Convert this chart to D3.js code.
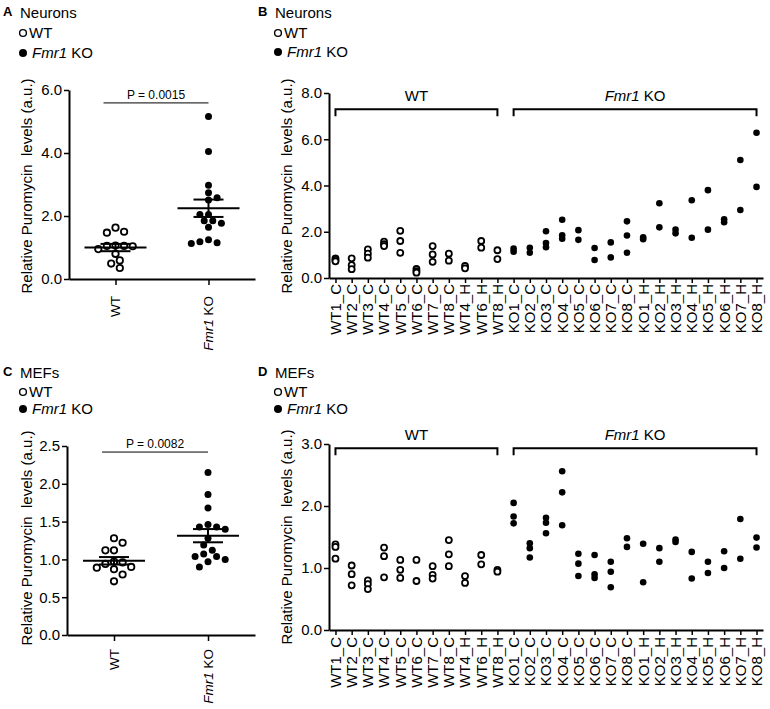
<!DOCTYPE html>
<html><head><meta charset="utf-8">
<script src="https://cdn.jsdelivr.net/npm/d3@7"></script>
<style>
body{margin:0;background:#fff}
svg{font-family:"Liberation Sans",Arial,Helvetica,sans-serif}
</style>
</head><body>
<svg id="c" width="770" height="709"></svg>
<script>
// ---------------- DATA ----------------
const groups = ["WT", "Fmr1 KO"];
const neuronWT = [1.63, 1.50, 1.47, 1.06, 1.05, 1.05, 1.04, 0.95, 0.80, 0.59, 0.49, 0.35];
const neuronKO = [5.16, 4.05, 2.98, 2.74, 2.58, 2.51, 2.05, 2.05, 1.85, 1.85, 1.77, 1.64, 1.25, 1.18, 1.15, 1.13];
const mefWT = [1.28, 1.22, 1.12, 1.12, 0.97, 0.96, 0.94, 0.90, 0.89, 0.87, 0.80, 0.71];
const mefKO = [2.15, 1.86, 1.68, 1.46, 1.43, 1.43, 1.40, 1.28, 1.19, 1.12, 1.07, 1.04, 1.04, 1.00, 0.97, 0.90];
const pNeuron = "P = 0.0015";
const pMef = "P = 0.0082";
const neuronTicks = [0, 2, 4, 6];
const mefTicks = [0, 0.5, 1.0, 1.5, 2.0, 2.5];

const sampleCats = ["WT1_C","WT2_C","WT3_C","WT4_C","WT5_C","WT6_C","WT7_C","WT8_C","WT4_H","WT6_H","WT8_H",
  "KO1_C","KO2_C","KO3_C","KO4_C","KO5_C","KO6_C","KO7_C","KO8_C",
  "KO1_H","KO2_H","KO3_H","KO4_H","KO5_H","KO6_H","KO7_H","KO8_H"];
const neuronSampleValues = [
  [0.85, 0.78, 0.72], [0.85, 0.56, 0.38], [1.24, 1.05, 0.88], [1.57, 1.46, 1.38],
  [2.04, 1.60, 1.09], [0.39, 0.30, 0.23], [1.38, 1.02, 0.70], [1.05, 0.75],
  [0.52, 0.42], [1.60, 1.31], [1.20, 0.82],
  [1.27, 1.14], [1.31, 1.09], [2.02, 1.51, 1.33], [2.52, 1.85, 1.70],
  [2.07, 1.65], [1.30, 0.78], [1.54, 0.89], [2.45, 1.84, 1.09],
  [1.76, 1.68], [3.23, 2.19], [2.10, 1.93], [3.36, 1.74],
  [3.80, 2.09], [2.54, 2.41], [5.10, 2.94], [6.28, 3.94]
];
const mefSampleValues = [
  [1.38, 1.34, 1.15], [1.04, 0.90, 0.72], [0.80, 0.74, 0.66], [1.33, 1.19, 0.85],
  [1.13, 0.97, 0.84], [1.13, 0.79], [1.03, 0.89, 0.83], [1.45, 1.22, 1.03],
  [0.87, 0.76], [1.21, 1.06], [0.97, 0.94],
  [2.05, 1.83, 1.72], [1.40, 1.32, 1.17], [1.81, 1.73, 1.56], [2.56, 2.22, 1.69],
  [1.23, 1.07, 0.87], [1.21, 0.90, 0.84], [1.10, 0.94, 0.69], [1.48, 1.34],
  [1.39, 0.77], [1.32, 1.10], [1.46, 1.42], [1.26, 0.83],
  [1.10, 0.92], [1.27, 1.00], [1.79, 1.15], [1.49, 1.33]
];
const neuronSampleTicks = [0, 2, 4, 6, 8];
const mefSampleTicks = [0, 1, 2, 3];
const yTitle = "Relative Puromycin  levels (a.u.)";

// ---------------- DRAW ----------------
const svg = d3.select("#c");
const F = 15;

function fmrLabel(sel) {
  sel.append("tspan").attr("font-style", "italic").text("Fmr1");
  sel.append("tspan").text(" KO");
}

function header(x, y, letter, title, legendY, legendDx) {
  svg.append("text").attr("x", x).attr("y", y).attr("font-weight", "bold")
    .attr("font-size", 13).text(letter);
  svg.append("text").attr("x", x + 17).attr("y", y + 2).attr("font-size", F).text(title);
  const cx = x + 20;
  svg.append("circle").attr("cx", cx).attr("cy", legendY[0]).attr("r", 3.4)
    .attr("fill", "#fff").attr("stroke", "#000").attr("stroke-width", 1.4);
  svg.append("text").attr("x", cx + 6).attr("y", legendY[0] + 5).attr("font-size", F).text("WT");
  svg.append("circle").attr("cx", cx).attr("cy", legendY[1]).attr("r", 4).attr("fill", "#000");
  const t = svg.append("text").attr("x", cx + 8 + legendDx).attr("y", legendY[1] + 5).attr("font-size", F);
  fmrLabel(t);
}

function yAxis(g, y, ticks, x0) {
  const ax = g.append("g").attr("transform", `translate(${x0},0)`)
    .call(d3.axisLeft(y).tickValues(ticks).tickFormat(d3.format(".1f")).tickSize(5).tickSizeOuter(0).tickPadding(2));
  ax.select(".domain").attr("stroke-width", 2);
  ax.selectAll(".tick line").attr("stroke-width", 1.5);
  ax.selectAll(".tick text").attr("font-size", F).attr("fill", "#000")
    .attr("font-family", '"Liberation Sans",Arial,sans-serif');
}

function yTitleAt(x, cy) {
  svg.append("text").attr("transform", `translate(${x},${cy}) rotate(-90)`)
    .attr("text-anchor", "middle").attr("font-size", F).style("white-space", "pre").text(yTitle);
}

function swarm(values, y, h, minD) {
  const pts = values.map(v => ({ v, py: y(v) })).sort((a, b) => a.py - b.py);
  const placed = [];
  let sum = 0;
  pts.forEach(p => {
    for (let k = 0; k < 40; k++) {
      const cands = k === 0 ? [0] : (sum > 0 ? [-k * h, k * h] : [k * h, -k * h]);
      const ok = cands.find(dx => placed.every(q => Math.hypot(q.dx - dx, q.py - p.py) >= minD));
      if (ok !== undefined) { p.dx = ok; sum += ok; placed.push(p); break; }
    }
  });
  return pts;
}

function dotPanel(cfg) {
  const g = svg.append("g");
  const x = d3.scalePoint().domain(groups).range([cfg.x0, cfg.x1]).padding(0.5);
  const y = d3.scaleLinear().domain(cfg.yDomain).range([cfg.yBottom, cfg.yTop]);
  const xa = g.append("g").attr("transform", `translate(0,${cfg.yBottom})`)
    .call(d3.axisBottom(x).tickSize(6).tickSizeOuter(0).tickFormat(""));
  xa.select(".domain").attr("stroke-width", 2);
  xa.selectAll(".tick line").attr("stroke-width", 1.5);
  yAxis(g, y, cfg.ticks, cfg.x0);
  groups.forEach((grp, i) => {
    const t = g.append("text").attr("transform", `translate(${x(grp)},${cfg.yBottom + cfg.labelGap}) rotate(-90)`)
      .attr("text-anchor", "end").attr("dy", "0.35em").attr("font-size", 13.5);
    if (i === 0) t.text(grp); else fmrLabel(t);
  });
  const py = y(cfg.pLevel);
  g.append("line").attr("x1", x(groups[0]) - 12).attr("x2", x(groups[1])).attr("y1", py).attr("y2", py)
    .attr("stroke", "#000").attr("stroke-width", 1);
  g.append("text").attr("x", (x(groups[0]) - 12 + x(groups[1])) / 2).attr("y", py - 4)
    .attr("text-anchor", "middle").attr("font-size", 12).text(cfg.pText);
  [cfg.wt, cfg.ko].forEach((vals, i) => {
    const cx = x(groups[i]);
    const pts = swarm(vals, y, 4.3, 7.2);
    g.selectAll(null).data(pts).enter().append("circle")
      .attr("cx", d => cx + d.dx).attr("cy", d => d.py)
      .attr("r", i === 0 ? 3.2 : 3.5)
      .attr("fill", i === 0 ? "#fff" : "#000")
      .attr("stroke", "#000").attr("stroke-width", i === 0 ? 1.8 : 0);
    const m = d3.mean(vals), sem = d3.deviation(vals) / Math.sqrt(vals.length);
    g.append("line").attr("x1", cx - 31).attr("x2", cx + 31).attr("y1", y(m)).attr("y2", y(m))
      .attr("stroke", "#000").attr("stroke-width", 2);
    g.append("line").attr("x1", cx).attr("x2", cx).attr("y1", y(m - sem)).attr("y2", y(m + sem))
      .attr("stroke", "#000").attr("stroke-width", 2);
    [m - sem, m + sem].forEach(v => g.append("line").attr("x1", cx - 15).attr("x2", cx + 15)
      .attr("y1", y(v)).attr("y2", y(v)).attr("stroke", "#000").attr("stroke-width", 2));
  });
}

function samplePanel(cfg) {
  const g = svg.append("g");
  const x = d3.scalePoint().domain(sampleCats).range([cfg.x0, cfg.x1]).padding(0.4);
  const y = d3.scaleLinear().domain(cfg.yDomain).range([cfg.yBottom, cfg.yTop]);
  const xa = g.append("g").attr("transform", `translate(0,${cfg.yBottom})`)
    .call(d3.axisBottom(x).tickSize(5).tickSizeOuter(0).tickFormat(""));
  xa.select(".domain").attr("stroke-width", 2);
  xa.selectAll(".tick line").attr("stroke-width", 1.5);
  yAxis(g, y, cfg.ticks, cfg.x0);
  sampleCats.forEach(c => {
    g.append("text").attr("transform", `translate(${x(c)},${cfg.yBottom + cfg.labelGap}) rotate(-90)`)
      .attr("text-anchor", "end").attr("dy", "0.36em").attr("font-size", F).text(c);
  });
  const wtCats = sampleCats.filter(c => c.startsWith("WT"));
  const koCats = sampleCats.filter(c => c.startsWith("KO"));
  const by = y(cfg.bracketLevel);
  [[wtCats, 0], [koCats, 1]].forEach(([cs, i]) => {
    const a = x(cs[0]), b = x(cs[cs.length - 1]);
    g.append("path").attr("d", `M${a},${by + 7}V${by}H${b}V${by + 7}`)
      .attr("fill", "none").attr("stroke", "#000").attr("stroke-width", 2);
    const t = g.append("text").attr("x", (a + b) / 2).attr("y", by - 8)
      .attr("text-anchor", "middle").attr("font-size", F);
    if (i === 0) t.text(groups[0]); else fmrLabel(t);
  });
  const pts = [];
  cfg.values.forEach((vs, i) => vs.forEach(v => pts.push({ c: sampleCats[i], v, ko: sampleCats[i].startsWith("KO") })));
  g.selectAll(null).data(pts).enter().append("circle")
    .attr("cx", d => x(d.c)).attr("cy", d => y(d.v))
    .attr("r", d => d.ko ? 3.3 : 3.0)
    .attr("fill", d => d.ko ? "#000" : "#fff")
    .attr("stroke", "#000").attr("stroke-width", d => d.ko ? 0 : 1.8);
}

// Panel A
header(3, 16, "A", "Neurons", [33, 53], 1);
yTitleAt(32, 186);
dotPanel({ x0: 69, x1: 255, yTop: 90, yBottom: 279, yDomain: [0, 6], ticks: neuronTicks,
  wt: neuronWT, ko: neuronKO, pText: pNeuron, pLevel: 5.59, labelGap: 17 });

// Panel B
header(258, 16, "B", "Neurons", [33, 52], 1);
yTitleAt(292, 186);
samplePanel({ x0: 329, x1: 763, yTop: 93, yBottom: 278, yDomain: [0, 8], ticks: neuronSampleTicks,
  values: neuronSampleValues, bracketLevel: 7.3, labelGap: 6 });

// Panel C
header(3, 376, "C", "MEFs", [392, 409], 1);
yTitleAt(32, 538);
dotPanel({ x0: 67, x1: 255, yTop: 446, yBottom: 635, yDomain: [0, 2.5], ticks: mefTicks,
  wt: mefWT, ko: mefKO, pText: pMef, pLevel: 2.42, labelGap: 14 });

// Panel D
header(258, 376, "D", "MEFs", [392, 409], 1);
yTitleAt(292, 537);
samplePanel({ x0: 329, x1: 763, yTop: 444, yBottom: 630, yDomain: [0, 3], ticks: mefSampleTicks,
  values: mefSampleValues, bracketLevel: 2.93, labelGap: 7 });
</script>
</body></html>
